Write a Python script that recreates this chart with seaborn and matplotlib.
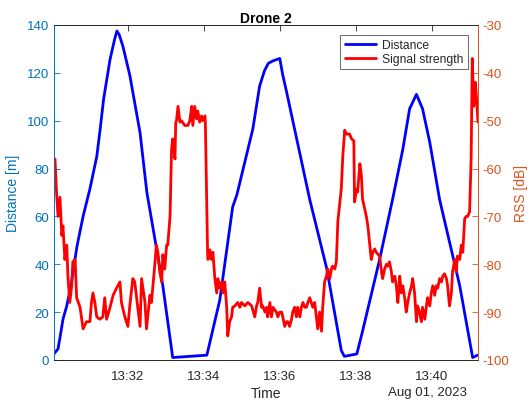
import matplotlib
matplotlib.use("Agg")
import matplotlib.pyplot as plt
import matplotlib.dates as mdates
import seaborn as sns
import numpy as np
import pandas as pd

# distance track, minutes after 13:30
dist_min = [0.05, 0.16, 0.25, 0.29, 0.39, 0.5, 0.66, 0.82, 1.0, 1.18, 1.27, 1.36, 1.53, 1.65,
            1.71, 1.77, 1.87, 2.05, 2.32, 2.5, 2.76, 2.92, 3.18, 4.08, 4.42, 4.76, 4.87,
            5.29, 5.47, 5.6, 5.7, 5.82, 6.0, 6.08, 6.18, 6.79, 7.24, 7.62, 7.7, 8.03, 8.18,
            8.63, 8.97, 9.24, 9.42, 9.6, 9.76, 9.95, 10.21, 10.74, 11.08, 11.21]
dist_m = [2.5, 4.6, 13, 17, 22.6, 31, 47.6, 60, 71.5, 85, 96.5, 109, 125.6, 134,
          137.5, 136, 131, 119, 95, 70, 46, 31, 1, 2, 25, 64, 69,
          96.5, 114.5, 121, 124, 125, 126, 119, 112, 67, 38, 4, 1.5, 2.5, 12,
          42, 67, 88, 105, 111, 105, 91, 67, 31, 1, 2]

# received signal strength, minutes after 13:30
rss_min = [0.08, 0.12, 0.16, 0.21, 0.26, 0.29, 0.34, 0.39, 0.42, 0.47, 0.52, 0.55, 0.61, 0.65,
           0.74, 0.82, 0.91, 1.0, 1.04, 1.08, 1.13, 1.18, 1.26, 1.34, 1.39, 1.44, 1.53, 1.61,
           1.7, 1.79, 1.83, 1.92, 2.0, 2.05, 2.13, 2.18, 2.26, 2.32, 2.36, 2.45, 2.49, 2.58,
           2.62, 2.71, 2.75, 2.79, 2.84, 2.89, 2.92, 2.97, 3.02, 3.05, 3.11, 3.15, 3.18, 3.24,
           3.26, 3.28, 3.32, 3.37, 3.41, 3.5, 3.58, 3.63, 3.68, 3.71, 3.76, 3.81, 3.84, 3.89,
           3.94, 3.97, 4.03, 4.04, 4.1, 4.11, 4.16, 4.2, 4.24, 4.29, 4.34, 4.37, 4.42, 4.47,
           4.5, 4.55, 4.6, 4.63, 4.68, 4.73, 4.76, 4.82, 4.89, 4.95, 4.99, 5.08, 5.16, 5.26,
           5.34, 5.39, 5.42, 5.47, 5.52, 5.55, 5.61, 5.65, 5.68, 5.74, 5.78, 5.82, 5.91, 5.95,
           6.0, 6.05, 6.08, 6.13, 6.18, 6.21, 6.26, 6.31, 6.34, 6.39, 6.44, 6.47, 6.53, 6.57,
           6.61, 6.66, 6.7, 6.74, 6.79, 6.83, 6.87, 6.92, 6.97, 7.0, 7.05, 7.1, 7.13, 7.18,
           7.23, 7.26, 7.32, 7.36, 7.39, 7.45, 7.49, 7.53, 7.62, 7.66, 7.71, 7.76, 7.84, 7.89,
           7.95, 7.97, 8.02, 8.05, 8.11, 8.15, 8.18, 8.28, 8.32, 8.37, 8.41, 8.45, 8.5, 8.54,
           8.63, 8.68, 8.71, 8.76, 8.81, 8.84, 8.89, 8.94, 8.97, 9.03, 9.07, 9.11, 9.16, 9.2,
           9.24, 9.29, 9.33, 9.37, 9.42, 9.47, 9.5, 9.55, 9.6, 9.63, 9.68, 9.73, 9.76, 9.82,
           9.86, 9.89, 9.95, 9.99, 10.03, 10.08, 10.12, 10.16, 10.21, 10.26, 10.29, 10.34, 10.39, 10.42,
           10.47, 10.52, 10.55, 10.61, 10.65, 10.68, 10.74, 10.78, 10.82, 10.87, 10.91, 10.95, 11.0, 11.04,
           11.07, 11.11, 11.15, 11.18, 11.22]
rss_db = [-58, -64.9, -70, -66, -74, -72, -79, -76, -82.5, -88, -84.5, -79.5, -79, -87,
          -89, -93.5, -92, -92, -88, -86, -88, -91, -91.5, -91, -87, -91.5, -89, -86.5,
          -85, -83.7, -88, -91, -93, -88.7, -83, -83.7, -89, -93, -83, -88, -93.5, -86.5,
          -88, -80, -76, -77.5, -81.6, -83.7, -78, -81, -76, -76, -70, -56, -53.8, -58,
          -50.3, -50, -47, -50.3, -50, -51, -51, -50, -47, -51, -47, -49.6, -48, -50.3,
          -49, -50, -49, -50.3, -78, -79, -77, -79, -77.5, -83, -86, -83, -85, -83.7,
          -86, -83.7, -88.7, -95, -92, -91, -89, -88.7, -88, -89, -88, -88.7, -88, -88.7,
          -91, -88.7, -88, -85, -89, -88.7, -90, -89, -91, -88, -91, -89, -90, -91,
          -90, -90, -91, -93, -92, -92, -93, -91.5, -90, -89, -91, -89, -91, -89,
          -88, -89, -89, -88, -87, -88, -89, -88, -91.5, -93.5, -90, -94, -89, -83.7,
          -82.5, -81, -83, -81, -80.4, -81, -79.5, -71, -64.3, -57.4, -52, -52.8, -52.8, -53.8,
          -54.2, -67, -64.3, -64.9, -59, -61.5, -66.4, -70, -72, -76, -79, -77.5, -76.8, -77.5,
          -78.3, -81.6, -83, -81, -80, -80.4, -79.5, -81.6, -83.7, -82.5, -84.5, -88, -82.5, -86,
          -84.5, -87, -90, -88, -86, -84.5, -83, -86, -92, -88.7, -90, -92, -89, -91.5,
          -89, -87, -88.7, -86, -84.5, -86.5, -84.5, -85, -83, -83.7, -82.5, -82, -83, -84.5,
          -88.7, -86, -81.6, -79, -81.6, -78.3, -79, -76, -77.5, -70.5, -70, -70, -69, -58,
          -37, -47, -42, -45, -50.3]

start = pd.Timestamp("2023-08-01 13:30:00")
dist_df = pd.DataFrame({"time": start + pd.to_timedelta(dist_min, unit="m"), "Distance": dist_m})
rss_df = pd.DataFrame({"time": start + pd.to_timedelta(rss_min, unit="m"), "RSS": rss_db})

sns.set_style("white")
plt.rcParams["font.family"] = ["Liberation Sans", "DejaVu Sans"]
plt.rcParams["axes.unicode_minus"] = False

left_col = "#0072BD"
right_col = "#D95319"
dark = "#262626"

fig = plt.figure(figsize=(5.28, 4.06), dpi=100)
ax = fig.add_axes([0.102, 0.111, 0.803, 0.825])
ax2 = ax.twinx()

sns.lineplot(data=dist_df, x="time", y="Distance", ax=ax, color="blue", linewidth=2, label="Distance", legend=False)
sns.lineplot(data=rss_df, x="time", y="RSS", ax=ax2, color="red", linewidth=2, label="Signal strength", legend=False)

ax.set_xlim(start + pd.Timedelta(seconds=3), start + pd.Timedelta(seconds=673))
ax.set_ylim(0, 140)
ax2.set_ylim(-100, -30)
ax.set_yticks(np.arange(0, 141, 20))
ax2.set_yticks(np.arange(-100, -29, 10))

ax.xaxis.set_major_locator(mdates.MinuteLocator(byminute=range(0, 60, 2)))
ax.xaxis.set_major_formatter(mdates.DateFormatter("%H:%M"))

ax.set_ylabel("Distance [m]", color=left_col, fontsize=10, labelpad=5)
ax2.set_ylabel("RSS [dB]", color=right_col, fontsize=10, labelpad=3)
ax.set_xlabel("Time", color=dark, fontsize=10, labelpad=3)
ax.set_title("Drone 2", fontsize=10, fontweight="bold", color="black", pad=2.5)

ax.tick_params(axis="y", colors=left_col, labelsize=9.5, direction="in", length=4, width=0.6)
ax2.tick_params(axis="y", colors=right_col, labelsize=9.5, direction="in", length=4, width=0.6)
ax.tick_params(axis="x", colors=dark, labelsize=9.5, direction="in", length=4, width=0.6,
               top=True, labeltop=False, pad=7)
ax2.tick_params(axis="x", top=False)

for a in (ax, ax2):
    for s in a.spines.values():
        s.set_linewidth(0.6)
        s.set_color(dark)
    a.spines["left"].set_color(left_col)
    a.spines["right"].set_color(right_col)

ax.text(0.974, -0.096, "Aug 01, 2023", transform=ax.transAxes,
        ha="right", va="center", fontsize=9.5, color=dark)

lines = ax.get_lines() + ax2.get_lines()
leg = ax2.legend(lines, ["Distance", "Signal strength"], loc="upper right", fontsize=8.7,
                 frameon=True, fancybox=False, edgecolor=dark, borderpad=0.35, handlelength=2.6,
                 labelspacing=0.15, handletextpad=0.5, borderaxespad=0,
                 bbox_to_anchor=(0.976, 0.970))
leg.get_frame().set_linewidth(0.6)

fig.savefig("out.png", dpi=100)
